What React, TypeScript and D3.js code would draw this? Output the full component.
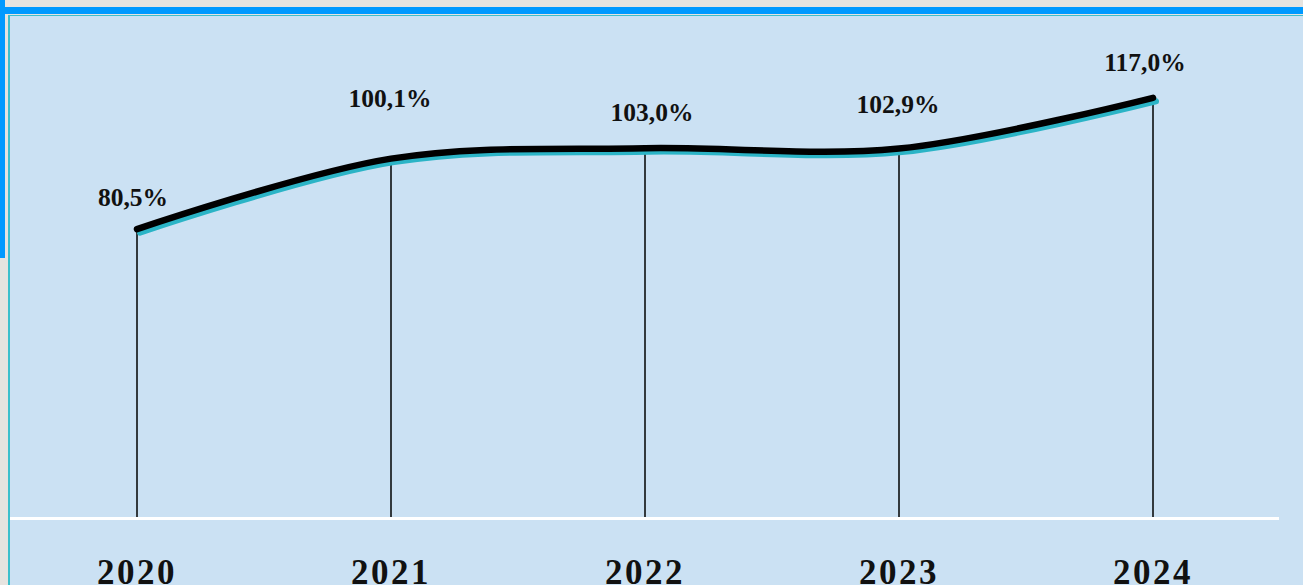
import { useRef, useEffect } from 'react';
import * as d3 from 'd3';

const years = ['2020', '2021', '2022', '2023', '2024'];
const values = [80.5, 100.1, 103.0, 102.9, 117.0];
// label nudges (dx, dy from the point), the labels in the picture are hand placed
const labelShift = [
  [-4, -23],
  [-1, -52],
  [7, -27],
  [-1, -36],
  [-8, -27],
];

const W = 1303;
const H = 585;

export default function App() {
  const ref = useRef<SVGSVGElement>(null);

  useEffect(() => {
    document.body.style.margin = '0';
    const svg = d3.select(ref.current);
    svg.selectAll('*').remove();

    // frame
    svg.append('rect').attr('width', W).attr('height', H).attr('fill', '#e6e4e0');
    svg.append('rect').attr('x', 0).attr('y', 7).attr('width', W).attr('height', 7).attr('fill', '#0099ff');
    svg.append('rect').attr('x', 0).attr('y', 0).attr('width', 5).attr('height', 258).attr('fill', '#0099ff');
    svg.append('rect').attr('x', 8).attr('y', 15).attr('width', W - 8).attr('height', H - 15).attr('fill', '#3cbfcc');
    svg.append('rect').attr('x', 10).attr('y', 16).attr('width', W - 10).attr('height', H - 16).attr('fill', '#cbe1f3');

    const x = d3.scalePoint().domain(years).range([137, 1153]);
    const y = d3.scaleLinear().domain([0, 140]).range([519, 15]);
    const data = years.map((yr, i) => ({ yr, v: values[i] }));

    // baseline
    svg.append('line')
      .attr('x1', 10).attr('x2', 1279)
      .attr('y1', 518.5).attr('y2', 518.5)
      .attr('stroke', '#ffffff').attr('stroke-width', 3);

    // drop lines
    svg.selectAll('line.drop')
      .data(data)
      .join('line')
      .attr('class', 'drop')
      .attr('x1', (d) => x(d.yr)!).attr('x2', (d) => x(d.yr)!)
      .attr('y1', (d) => y(d.v)).attr('y2', 517)
      .attr('stroke', '#000').attr('stroke-width', 1.5);

    const line = d3.line<{ yr: string; v: number }>()
      .x((d) => x(d.yr)!)
      .y((d) => y(d.v))
      .curve(d3.curveCardinal.tension(0));

    // teal shadow then black line
    svg.append('path')
      .datum(data)
      .attr('d', line)
      .attr('transform', 'translate(3,3.5)')
      .attr('fill', 'none')
      .attr('stroke', '#2bb4c6')
      .attr('stroke-width', 6)
      .attr('stroke-linecap', 'round');

    svg.append('path')
      .datum(data)
      .attr('d', line)
      .attr('fill', 'none')
      .attr('stroke', '#000')
      .attr('stroke-width', 6.5)
      .attr('stroke-linecap', 'round');

    // value labels
    svg.selectAll('text.val')
      .data(data)
      .join('text')
      .attr('class', 'val')
      .attr('x', (d, i) => x(d.yr)! + labelShift[i][0])
      .attr('y', (d, i) => y(d.v) + labelShift[i][1])
      .attr('text-anchor', 'middle')
      .style('font-family', '"Liberation Serif", serif')
      .style('font-weight', 'bold')
      .style('font-size', '25.5px')
      .attr('fill', '#111')
      .text((d) => d.v.toFixed(1).replace('.', ',') + '%');

    // year labels
    svg.selectAll('text.yr')
      .data(years)
      .join('text')
      .attr('class', 'yr')
      .attr('x', (d) => x(d)!)
      .attr('y', 584)
      .attr('text-anchor', 'middle')
      .style('font-family', '"Liberation Serif", serif')
      .style('font-weight', 'bold')
      .style('font-size', '35px')
      .style('letter-spacing', '2.5px')
      .attr('fill', '#111')
      .text((d) => d);
  }, []);

  return <svg ref={ref} width={W} height={H} style={{ display: 'block' }} />;
}
